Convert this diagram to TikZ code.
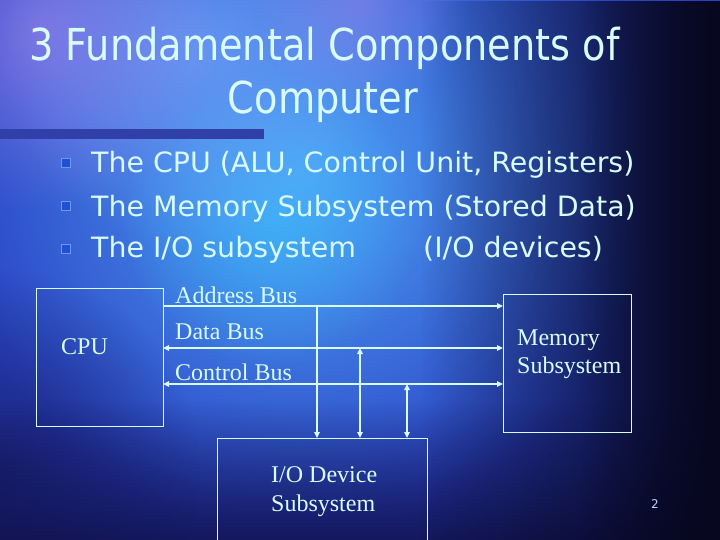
\documentclass[tikz,border=0pt]{standalone}
\usepackage{fontspec}
\setmainfont{Liberation Serif}
\newfontfamily\tah[FakeStretch=0.87]{DejaVu Sans}
\newfontfamily\tahb[FakeStretch=1.015]{DejaVu Sans}
\usetikzlibrary{arrows.meta,fadings}
\definecolor{bgmid}{HTML}{2A42C4}
\definecolor{glow}{HTML}{52A8FA}
\definecolor{skyc}{HTML}{6C9CF6}
\definecolor{purp}{HTML}{A888F0}
\definecolor{night}{HTML}{07071F}
\definecolor{navy}{HTML}{10104A}
\definecolor{ink}{HTML}{D8FCFF}
\definecolor{barc}{HTML}{3040A8}
\definecolor{bulc}{HTML}{2050D4}
\definecolor{bule}{HTML}{6A9AF4}
\tikzfading[name=softcircle, inner color=transparent!0, outer color=transparent!100]
\tikzset{
  titletext/.style={font=\tah\fontsize{44}{53}\selectfont, text=ink, inner sep=0pt},
  bullettext/.style={font=\tahb\fontsize{28}{34}\selectfont, text=ink, inner sep=0pt, anchor=base west},
  serif/.style={font=\fontsize{24}{28}\selectfont, text=ink, inner sep=0pt, anchor=base west},
  box/.style={draw=ink, line width=1pt},
  bus/.style={draw=ink, line width=2pt},
  tip/.style={-{Triangle[length=6pt,width=5.5pt]}},
  tips/.style={{Triangle[length=6pt,width=5.5pt]}-{Triangle[length=6pt,width=5.5pt]}},
  bulletsq/.style={fill=bulc, draw=bule, line width=0.8pt, minimum size=9pt, inner sep=0pt}
}
\begin{document}
\begin{tikzpicture}[x=1pt,y=-1pt]
\useasboundingbox (0,0) rectangle (720,540);
% background
\fill[bgmid] (0,0) rectangle (720,540);
\fill[glow, path fading=softcircle, opacity=0.95] (300,170) circle (360);
\fill[glow!70!cyan, path fading=softcircle, opacity=0.6] (270,220) circle (150);
\fill[skyc, path fading=softcircle, opacity=0.8] (200,50) circle (200);
\fill[purp, path fading=softcircle, opacity=0.6] (40,30) circle (180);
\fill[purp, path fading=softcircle, opacity=0.45] (360,0) circle (110);
\fill[navy, path fading=north, opacity=0.85] (0,400) rectangle (720,540);
\fill[navy, path fading=softcircle, opacity=0.6] (0,470) circle (200);
\fill[night, path fading=west] (420,0) rectangle (720,540);
\fill[night, path fading=west, opacity=0.7] (580,0) rectangle (720,540);
% title
\node[titletext, anchor=base] (t1) at (324.5,61) {3 Fundamental Components of};
\node[titletext, anchor=base] (t2) at (323,114) {Computer};
\fill[barc] (0,129) rectangle (264,139);
% bullets
\node[bulletsq] (b1) at (66,163) {};
\node[bulletsq] (b2) at (66,206) {};
\node[bulletsq] (b3) at (66,249) {};
\node[bullettext] (l1) at (91,173) {The CPU (ALU, Control Unit, Registers)};
\node[bullettext] (l2) at (91,216) {The Memory Subsystem (Stored Data)};
\node[bullettext] (l3) at (91,258) {The I/O subsystem};
\node[bullettext] (l3b) at (423,258) {(I/O devices)};
% boxes
\draw[box] (36,288) rectangle (163,426);
\draw[box] (503,294) rectangle (631,432);
\draw[box] (217,438) rectangle (427,545);
\node[serif] (cpu) at (61,354) {CPU};
\node[serif] (mem1) at (517,345) {Memory};
\node[serif] (mem2) at (517,373) {Subsystem};
\node[serif] (io1) at (271,482) {I/O Device};
\node[serif] (io2) at (271,511) {Subsystem};
\node[serif] (ab) at (175,303) {Address Bus};
\node[serif] (db) at (175,339) {Data Bus};
\node[serif] (cb) at (175,380) {Control Bus};
% buses
\coordinate (a0) at (163,306); \coordinate (a1) at (503,306);
\coordinate (d0) at (163,348); \coordinate (d1) at (503,348);
\coordinate (c0) at (163,384); \coordinate (c1) at (503,384);
\draw[bus, tip] (a0) -- (a1);
\draw[bus, tips] (d0) -- (d1);
\draw[bus, tips] (c0) -- (c1);
\coordinate (v1t) at (317,306); \coordinate (v1b) at (317,438);
\coordinate (v2t) at (360,348); \coordinate (v2b) at (360,438);
\coordinate (v3t) at (407,384); \coordinate (v3b) at (407,438);
\draw[bus, tip] (v1t) -- (v1b);
\draw[bus, tips] (v2t) -- (v2b);
\draw[bus, tips] (v3t) -- (v3b);
% page number
\node[font=\fontspec{DejaVu Sans}\fontsize{12}{14}\selectfont, text=ink!85!blue, inner sep=0pt] (pg) at (655,504) {2};
\end{tikzpicture}
\end{document}
